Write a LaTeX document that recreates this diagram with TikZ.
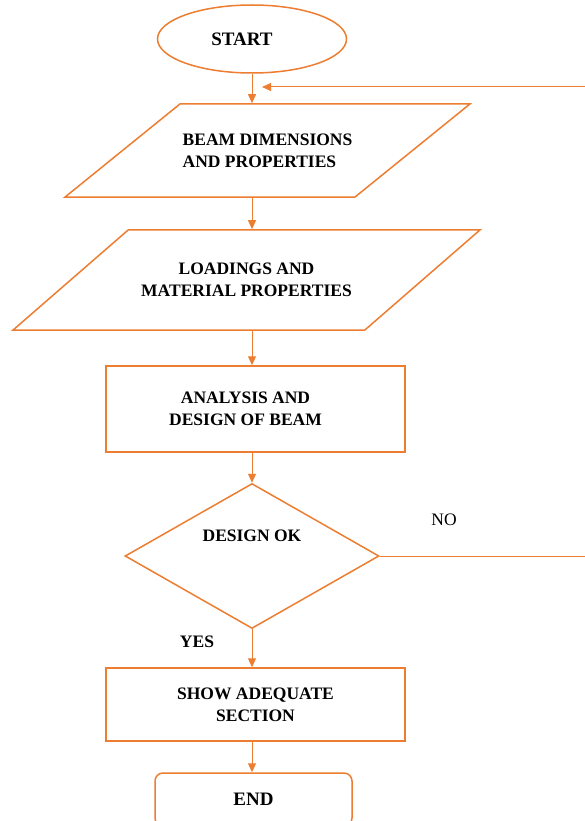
\documentclass[tikz,border=0pt]{standalone}
\usepackage{fontspec}
\setmainfont{Liberation Serif}
\usetikzlibrary{shapes.geometric,arrows.meta}
\definecolor{flow}{RGB}{237,125,49}

\begin{document}
\begin{tikzpicture}[x=1pt,y=-1pt]
\tikzstyle{every node}=[font=\bfseries\fontsize{17.5}{22}\selectfont, align=center, inner sep=0pt]
\tikzstyle{outline}=[draw=flow, line width=1.5pt]
\tikzstyle{box}=[outline, rectangle, minimum width=299pt]
\tikzstyle{io}=[outline, trapezium, trapezium stretches body]
\tikzstyle{line}=[draw=flow, line width=1pt, -{Triangle[width=8pt,length=9pt]}]
\useasboundingbox (0,0) rectangle (585,821);
\node[outline, ellipse, minimum width=189pt, minimum height=68pt,
	font=\bfseries\fontsize{19}{22}\selectfont] (start) at (252,39) {START\hspace*{20pt}};
\node[io, minimum width=405pt, inner ysep=29.7pt, align=left,
	trapezium left angle=39, trapezium right angle=141] (beam) at (267.5,150.5)
	{BEAM DIMENSIONS\\AND PROPERTIES};
\node[io, minimum width=467pt, inner ysep=33.2pt,
	trapezium left angle=41, trapezium right angle=139] (load) at (246.5,280)
	{LOADINGS AND\\MATERIAL PROPERTIES};
\node[box, minimum height=86pt] (design) at (255.5,409)
	{ANALYSIS AND\hspace*{20pt}\\DESIGN OF BEAM\hspace*{20pt}};
\node[outline, diamond, minimum width=254pt, minimum height=145pt] (ok) at (252,556) {};
\node (oktext) at (252,536) {DESIGN OK};
\node[font=\fontsize{17.5}{22}\selectfont] (no) at (444,520) {NO};
\node (yes) at (197,642) {YES};
\node[box, minimum height=73pt] (show) at (255.5,704.5) {SHOW ADEQUATE\\SECTION};
\node[outline, rectangle, rounded corners=8pt, minimum width=197pt, minimum height=53pt,
	font=\bfseries\fontsize{19}{22}\selectfont] (stop) at (253.5,799.5) {END};
\coordinate (back) at (262,87);
\draw[line] (start.south) -- (start.south |- beam.north);
\draw[line] (start.south |- beam.south) -- (start.south |- load.north);
\draw[line] (start.south |- load.south) -- (start.south |- design.north);
\draw[line] (start.south |- design.south) -- (ok.north);
\draw[line] (ok.south) -- (ok.south |- show.north);
\draw[line] (ok.south |- show.south) -- (ok.south |- stop.north);
\draw[line] (ok.east) -- (590,556) |- (back);
\end{tikzpicture}
\end{document}
